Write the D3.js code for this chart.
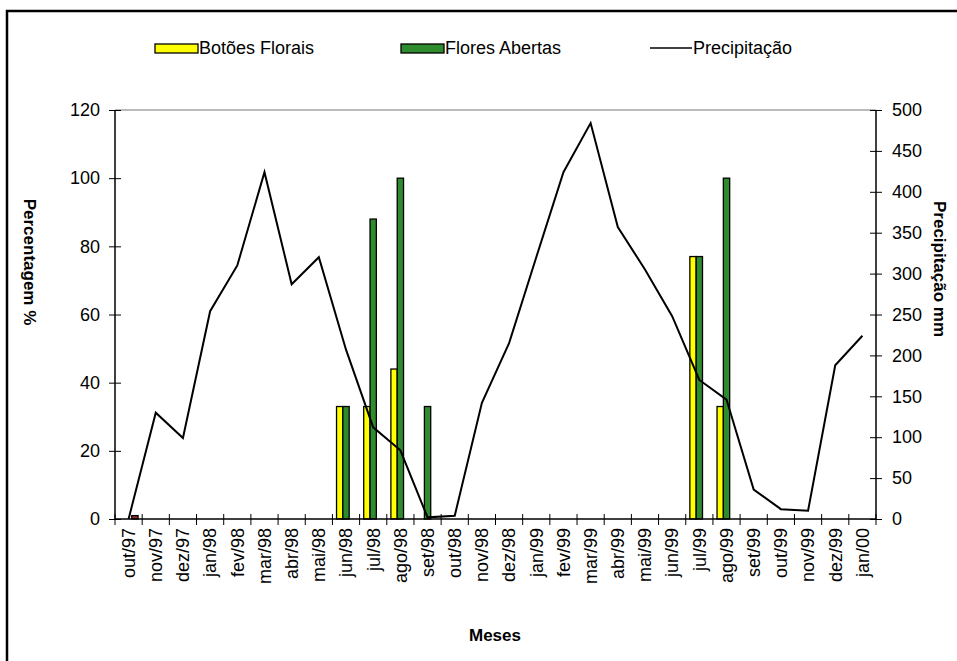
<!DOCTYPE html>
<html>
<head>
<meta charset="utf-8">
<script src="https://cdn.jsdelivr.net/npm/d3@7"></script>
<style>
  body { margin: 0; background: #fff; }
  svg { font-family: "Liberation Sans", Arial, sans-serif; }
</style>
</head>
<body>
<svg id="chart" width="957" height="661"></svg>
<script>
// data
var months = ["out/97", "nov/97", "dez/97", "jan/98", "fev/98", "mar/98", "abr/98", "mai/98",
  "jun/98", "jul/98", "ago/98", "set/98", "out/98", "nov/98", "dez/98", "jan/99", "fev/99",
  "mar/99", "abr/99", "mai/99", "jun/99", "jul/99", "ago/99", "set/99", "out/99", "nov/99",
  "dez/99", "jan/00"];
var botoes = [0, 0, 0, 0, 0, 0, 0, 0, 33, 33, 44, 0, 0, 0, 0, 0, 0, 0, 0, 0, 0, 77, 33, 0, 0, 0, 0, 0];
var flores = [0, 0, 0, 0, 0, 0, 0, 0, 33, 88, 100, 33, 0, 0, 0, 0, 0, 0, 0, 0, 0, 77, 100, 0, 0, 0, 0, 0];
var outros = [1, 0, 0, 0, 0, 0, 0, 0, 0, 0, 0, 0, 0, 0, 0, 0, 0, 0, 0, 0, 0, 0, 0, 0, 0, 0, 0, 0];
var precip = [0, 130, 99, 254, 310, 424, 287, 320, 207, 112, 84, 2, 4, 142, 215, 320, 424,
  484, 357, 305, 248, 170, 146, 36, 12, 10, 188, 224];
var leftTicks = [0, 20, 40, 60, 80, 100, 120];
var rightTicks = [0, 50, 100, 150, 200, 250, 300, 350, 400, 450, 500];

var svg = d3.select("#chart");
var mLeft = 115, mRight = 876, mTop = 110, mBottom = 519;
var fs = 18;

// outer frame
svg.append("path")
  .attr("d", "M7,661 V11 H957")
  .attr("fill", "none")
  .attr("stroke", "#000")
  .attr("stroke-width", 2.5);

var x = d3.scaleBand().domain(months).range([mLeft, mRight]);
var xSub = d3.scaleBand().domain(["b", "f", "o"]).range([0, x.bandwidth()]).paddingOuter(0.65);
var yL = d3.scaleLinear().domain([0, 120]).range([mBottom, mTop]);
var yR = d3.scaleLinear().domain([0, 500]).range([mBottom, mTop]);

// top border of plot area
svg.append("line")
  .attr("x1", mLeft).attr("x2", mRight).attr("y1", mTop).attr("y2", mTop)
  .attr("stroke", "#777").attr("stroke-width", 1);

// bars
var series = [
  { key: "b", values: botoes, color: "#ffff00" },
  { key: "f", values: flores, color: "#2e8b2e" },
  { key: "o", values: outros, color: "#9a2b2b" }
];
series.forEach(function (s) {
  svg.append("g").selectAll("rect").data(months).enter()
    .filter((d, i) => s.values[i] > 0)
    .append("rect")
    .attr("x", d => x(d) + xSub(s.key))
    .attr("width", xSub.bandwidth())
    .attr("y", d => yL(s.values[months.indexOf(d)]))
    .attr("height", d => mBottom - yL(s.values[months.indexOf(d)]))
    .attr("fill", s.color)
    .attr("stroke", "#000")
    .attr("stroke-width", 1.3);
});

// precipitation line
var line = d3.line()
  .x((d, i) => x(months[i]) + x.bandwidth() / 2)
  .y(d => yR(d));
svg.append("path")
  .datum(precip)
  .attr("d", line)
  .attr("fill", "none")
  .attr("stroke", "#000")
  .attr("stroke-width", 2);

// left axis
var axL = svg.append("g").attr("transform", "translate(" + mLeft + ",0)")
  .call(d3.axisLeft(yL).tickValues(leftTicks).tickSize(6).tickPadding(9));
axL.selectAll(".tick line").attr("x1", 6);
// right axis
var axR = svg.append("g").attr("transform", "translate(" + mRight + ",0)")
  .call(d3.axisRight(yR).tickValues(rightTicks).tickSize(6).tickPadding(10));
axR.selectAll(".tick line").attr("x1", -6);
// bottom axis, ticks between categories
var axB = svg.append("g").attr("transform", "translate(0," + mBottom + ")")
  .call(d3.axisBottom(x).tickSize(0).tickPadding(0));
axB.selectAll(".tick text")
  .attr("transform", "rotate(-90)")
  .attr("x", -9).attr("y", 0).attr("dy", "0.35em")
  .style("text-anchor", "end");
axB.selectAll(".sep").data(months.concat(["end"])).enter().append("line")
  .attr("x1", (d, i) => mLeft + i * x.bandwidth())
  .attr("x2", (d, i) => mLeft + i * x.bandwidth())
  .attr("y1", -5).attr("y2", 6)
  .attr("stroke", "#000");

[axL, axR, axB].forEach(function (a) {
  a.selectAll("text").attr("font-size", fs).attr("fill", "#000")
    .attr("font-family", "Liberation Sans, Arial, sans-serif");
  a.selectAll(".tick line").attr("stroke", "#000");
  a.select(".domain").attr("stroke", "#000").attr("stroke-width", 1.5);
});
axB.select(".domain").attr("d", "M" + mLeft + ",0H" + mRight);
axL.select(".domain").attr("d", "M0," + mBottom + "V" + mTop);
axR.select(".domain").attr("d", "M0," + mBottom + "V" + mTop);

// axis titles
svg.append("text")
  .attr("transform", "translate(30,262) rotate(90)")
  .attr("text-anchor", "middle").attr("dy", "0.35em")
  .attr("font-size", 17).attr("font-weight", "bold")
  .text("Percentagem %");
svg.append("text")
  .attr("transform", "translate(940,269) rotate(90)")
  .attr("text-anchor", "middle").attr("dy", "0.35em")
  .attr("font-size", 17).attr("font-weight", "bold")
  .text("Precipitação mm");
svg.append("text")
  .attr("x", 495).attr("y", 641)
  .attr("text-anchor", "middle")
  .attr("font-size", 17).attr("font-weight", "bold")
  .text("Meses");

// legend
var legend = [
  { name: "Botões Florais", type: "rect", color: "#ffff00", x: 155 },
  { name: "Flores Abertas", type: "rect", color: "#2e8b2e", x: 401 },
  { name: "Precipitação", type: "line", color: "#000", x: 650 }
];
var lg = svg.append("g").selectAll("g").data(legend).enter().append("g")
  .attr("transform", d => "translate(" + d.x + ",48)");
lg.filter(d => d.type === "rect").append("rect")
  .attr("x", 0).attr("y", -4).attr("width", 43).attr("height", 9)
  .attr("fill", d => d.color).attr("stroke", "#000").attr("stroke-width", 1.3);
lg.filter(d => d.type === "line").append("line")
  .attr("x1", 0).attr("x2", 42).attr("y1", 0).attr("y2", 0)
  .attr("stroke", "#000").attr("stroke-width", 1.5);
lg.append("text")
  .attr("x", d => d.type === "line" ? 43 : 44)
  .attr("y", 0).attr("dy", "0.35em")
  .attr("font-size", fs)
  .text(d => d.name);
</script>
</body>
</html>
